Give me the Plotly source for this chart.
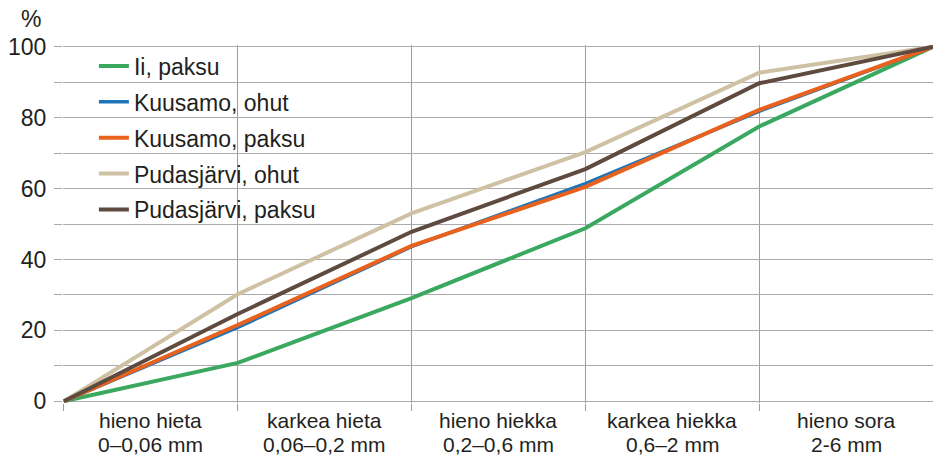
import plotly.graph_objects as go

cat_names = ["hieno hieta", "karkea hieta", "hieno hiekka", "karkea hiekka", "hieno sora"]
cat_sizes = ["0–0,06 mm", "0,06–0,2 mm", "0,2–0,6 mm", "0,6–2 mm", "2-6 mm"]
cat_centers = [0.5, 1.5, 2.5, 3.5, 4.5]
boundaries = [0, 1, 2, 3, 4, 5]

ii_paksu = [0, 10.8, 29.1, 48.8, 77.5, 100]
kuusamo_ohut = [0, 20.8, 43.6, 61.4, 81.8, 100]
kuusamo_paksu = [0, 21.5, 43.8, 60.5, 82.2, 100]
pudas_ohut = [0, 30.2, 53.0, 70.3, 92.7, 100]
pudas_paksu = [0, 24.6, 47.8, 65.5, 89.7, 100]

series = [
    ("Ii, paksu", ii_paksu, "#3aa95f", 4),
    ("Kuusamo, ohut", kuusamo_ohut, "#1f74b8", 3.5),
    ("Kuusamo, paksu", kuusamo_paksu, "#e8621d", 4),
    ("Pudasjärvi, ohut", pudas_ohut, "#cfc2a4", 4),
    ("Pudasjärvi, paksu", pudas_paksu, "#5e4a3f", 4),
]

font = "Liberation Sans, Arial, sans-serif"
txt = "#231f20"
fig = go.Figure()
for i, (name, vals, color, w) in enumerate(series):
    fig.add_trace(go.Scatter(x=boundaries, y=vals, mode="lines", name=name,
                             legendgroup=f"g{i}",
                             line=dict(color=color, width=w)))

annotations = [dict(text="%", x=-0.037, y=1.073, xref="paper", yref="paper",
                    xanchor="center", yanchor="middle", showarrow=False,
                    font=dict(size=23, family=font, color=txt))]
for xc, nm, sz in zip(cat_centers, cat_names, cat_sizes):
    annotations.append(dict(text=nm, x=xc, y=-0.048, xref="x", yref="paper",
                            xanchor="center", yanchor="middle", showarrow=False,
                            font=dict(size=21, family=font, color=txt)))
    annotations.append(dict(text=sz, x=xc, y=-0.115, xref="x", yref="paper",
                            xanchor="center", yanchor="middle", showarrow=False,
                            font=dict(size=21, family=font, color=txt)))

fig.update_layout(
    template="none",
    width=933, height=461,
    margin=dict(l=63, r=0, t=45, b=58, autoexpand=False),
    plot_bgcolor="white", paper_bgcolor="white",
    font=dict(family=font, size=23, color=txt),
    xaxis=dict(range=[-0.005, 5.0], tickvals=boundaries, showticklabels=False,
               showgrid=True, gridcolor="#9d9d9d", gridwidth=1.3,
               ticks="outside", ticklen=7, tickcolor="#9d9d9d", tickwidth=1.3,
               zeroline=False, showline=False, automargin=False),
    yaxis=dict(range=[-0.5, 100.5], tickvals=list(range(0, 101, 10)),
               ticktext=[str(v) if v % 20 == 0 else "" for v in range(0, 101, 10)],
               showgrid=True, gridcolor="#ababab", gridwidth=1.3,
               ticks="outside", ticklen=8, tickcolor="#ababab", tickwidth=1.3,
               zeroline=False, showline=False, ticklabelstandoff=3, automargin=False,
               tickfont=dict(size=23, family=font, color=txt)),
    legend=dict(x=0.0355, y=1.0016, xanchor="left", yanchor="top",
                bgcolor="rgba(0,0,0,0)", font=dict(size=23, family=font, color=txt),
                itemwidth=30, tracegroupgap=3, traceorder="grouped"),
    annotations=annotations,
    showlegend=True,
)

# remove the browser's default 8px body margin so the figure fills the window
fig.write_html("out.html", config={"displayModeBar": False},
               post_script="document.body.style.margin='0px';document.body.style.overflow='hidden';")
